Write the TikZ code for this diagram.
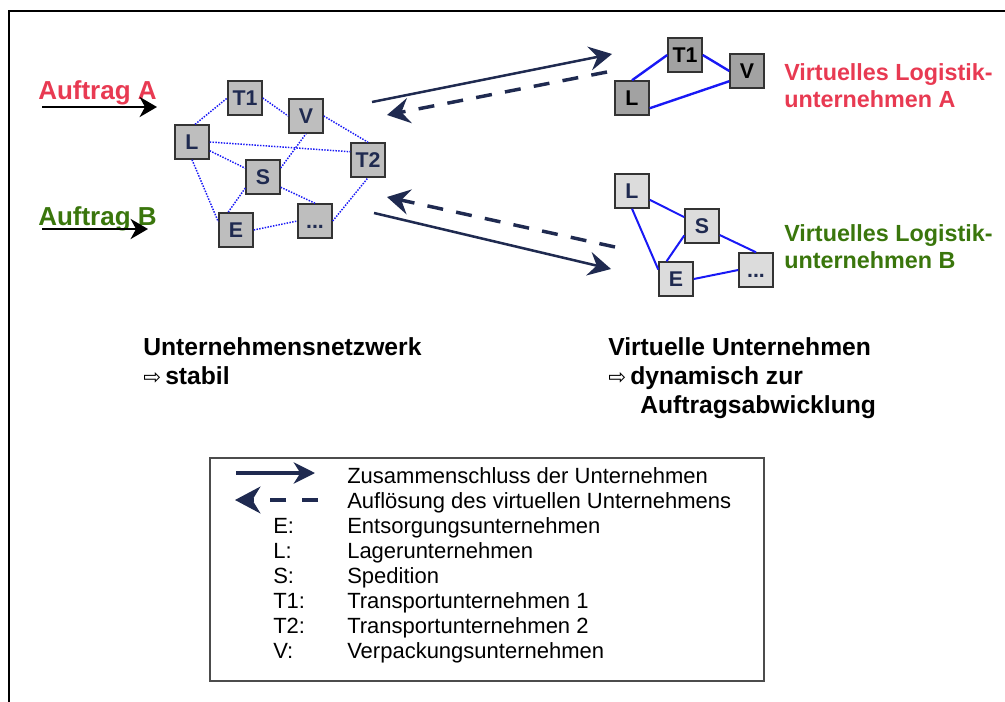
\documentclass[tikz,border=0pt]{standalone}
\usepackage{fontspec}
\setmainfont{Liberation Sans}
\newfontfamily\symfont{DejaVu Sans}
\usetikzlibrary{arrows.meta}

\definecolor{navy}{RGB}{31,42,80}
\definecolor{netblue}{RGB}{25,25,245}
\definecolor{redA}{RGB}{232,58,82}
\definecolor{greenB}{RGB}{58,118,12}
\definecolor{boxgray}{RGB}{190,190,190}
\definecolor{boxdark}{RGB}{162,162,162}
\definecolor{boxlight}{RGB}{220,220,220}

\tikzset{
  firm/.style={draw=black!80, line width=1.1pt, minimum width=25.5pt, minimum height=25.5pt,
    inner sep=0pt, text height=11.6pt, text depth=0pt,
    font=\bfseries\fontsize{16}{16}\selectfont},
  netfirm/.style={firm, fill=boxgray, text=navy},
  firmA/.style={firm, fill=boxdark, text=black},
  firmB/.style={firm, fill=boxlight, text=navy},
  netlink/.style={netblue, line width=1.1pt, densely dotted},
  virtlink/.style={netblue, line width=1.5pt},
  joinarrow/.style={navy, line width=1.9pt, -{Stealth[length=17pt,width=18pt,inset=6pt]}},
  splitarrow/.style={navy, line width=2.6pt, dash pattern=on 12pt off 10pt,
    -{Stealth[length=17pt,width=19pt,inset=6pt]}},
  orderarrow/.style={black, line width=2.2pt, -{Stealth[length=13pt,width=15pt,inset=4pt]}},
  plain/.style={anchor=base west, inner sep=0pt},
  ordertext/.style={plain, font=\bfseries\fontsize{19.5}{19.5}\selectfont},
  grouptext/.style={plain, font=\bfseries\fontsize{17.5}{17.5}\selectfont},
  headtext/.style={plain, font=\bfseries\fontsize{18.5}{18.5}\selectfont},
  legtext/.style={plain, font=\fontsize{16.5}{16.5}\selectfont},
}
\newcommand{\hollowarrow}{{\symfont\fontsize{16}{16}\selectfont\mdseries ⇨}\,}

\begin{document}
\begin{tikzpicture}[x=0.75pt, y=-0.75pt]
\useasboundingbox (0,0) rectangle (1005,702);

% outer frame (top and left edges)
\draw[line width=2pt] (9,702) -- (9,11) -- (1005,11);

% incoming orders
\node[ordertext, text=redA] (aufA) at (38,100) {Auftrag A};
\node[ordertext, text=greenB] (aufB) at (38,225) {Auftrag B};
\coordinate (oA0) at (42,107);  \coordinate (oA1) at (157,107);
\coordinate (oB0) at (42,229);  \coordinate (oB1) at (148,229);
\draw[orderarrow] (oA0) -- (oA1);
\draw[orderarrow] (oB0) -- (oB1);

% stable company network
\node[netfirm] (nT1) at (245,98)  {T1};
\node[netfirm] (nV)  at (306,116) {V};
\node[netfirm] (nL)  at (192,142) {L};
\node[netfirm] (nT2) at (368,160) {T2};
\node[netfirm] (nS)  at (263,177) {S};
\node[netfirm] (nE)  at (236,230) {E};
\node[netfirm] (nD)  at (315,221) {...};

\draw[netlink] (nL.80) -- (nT1.west);
\draw[netlink] (nT1.east) -- (nV.west);
\draw[netlink] (nV.east) -- (nT2.north);
\draw[netlink] (nL.east) -- (nT2.155);
\draw[netlink] (nL) -- (nS);
\draw[netlink] (nL.south) -- (nE.155);
\draw[netlink] (nS.27) -- (nV.south);
\draw[netlink] (nS.212) -- (nE.114);
\draw[netlink] (nS.-30) -- (nD.north);
\draw[netlink] (nE.east) -- (nD.west);
\draw[netlink] (nD.east) -- (nT2.south);

% virtual company A
\node[firmA] (aT1) at (685,55) {T1};
\node[firmA] (aV)  at (747,71) {V};
\node[firmA] (aL)  at (632,98) {L};
\draw[virtlink, line width=1.8pt] (aL.north) -- (aT1.west);
\draw[virtlink, line width=1.8pt] (aT1.east) -- (aV.west);
\draw[virtlink, line width=1.8pt] (aL.-30) -- (aV.210);
\node[grouptext, text=redA] (grpA1) at (784,81) {Virtuelles Logistik-};
\node[grouptext, text=redA] (grpA2) at (784,108) {unternehmen A};

% virtual company B
\node[firmB] (bL) at (632,191) {L};
\node[firmB] (bS) at (702,226) {S};
\node[firmB] (bE) at (676,279) {E};
\node[firmB] (bD) at (756,270) {...};
\draw[virtlink] (bL) -- (bS);
\draw[virtlink] (bL.south) -- (bE.152);
\draw[virtlink] (bS.208) -- (bE.118);
\draw[virtlink] (bS.-27) -- (bD.north);
\draw[virtlink] (bE.east) -- (bD.west);
\node[grouptext, text=greenB] (grpB1) at (784,241) {Virtuelles Logistik-};
\node[grouptext, text=greenB] (grpB2) at (784,268) {unternehmen B};

% forming and dissolving the virtual companies
\coordinate (jA0) at (372,102); \coordinate (jA1) at (612,54);
\coordinate (sA0) at (607,72);  \coordinate (sA1) at (387,115);
\coordinate (sB0) at (615,247); \coordinate (sB1) at (387,197);
\coordinate (jB0) at (374,213); \coordinate (jB1) at (611,269);
\draw[joinarrow] (jA0) -- (jA1);
\draw[splitarrow] (sA0) -- (sA1);
\draw[splitarrow] (sB0) -- (sB1);
\draw[joinarrow] (jB0) -- (jB1);

% captions
\node[headtext] (capNet) at (143,355) {Unternehmensnetzwerk};
\node[headtext] (capNet2) at (143,384) {\hollowarrow stabil};
\node[headtext] (capVU) at (608,355) {Virtuelle Unternehmen};
\node[headtext] (capVU2) at (608,384) {\hollowarrow dynamisch zur};
\node[headtext] (capVU3) at (640,413) {Auftragsabwicklung};

% legend
\draw[draw=black!70, line width=0.9pt] (210,458) rectangle (764,681);
\coordinate (lj0) at (236,473); \coordinate (lj1) at (315,473);
\coordinate (ls0) at (318,500); \coordinate (ls1) at (235,500);
\draw[navy, line width=2.3pt, -{Stealth[length=16pt,width=16pt,inset=5pt]}] (lj0) -- (lj1);
\draw[navy, line width=3pt, dash pattern=on 12pt off 12pt,
      -{Stealth[length=19pt,width=20pt,inset=6pt]}] (ls0) -- (ls1);
\node[legtext] (l1) at (347,483) {Zusammenschluss der Unternehmen};
\node[legtext] (l2) at (347,508) {Auflösung des virtuellen Unternehmens};
\node[legtext] (kE)  at (273,533) {E:};
\node[legtext] (tE)  at (347,533) {Entsorgungsunternehmen};
\node[legtext] (kL)  at (273,558) {L:};
\node[legtext] (tL)  at (347,558) {Lagerunternehmen};
\node[legtext] (kS)  at (273,583) {S:};
\node[legtext] (tS)  at (347,583) {Spedition};
\node[legtext] (kT1) at (273,608) {T1:};
\node[legtext] (tT1) at (347,608) {Transportunternehmen 1};
\node[legtext] (kT2) at (273,633) {T2:};
\node[legtext] (tT2) at (347,633) {Transportunternehmen 2};
\node[legtext] (kV)  at (273,658) {V:};
\node[legtext] (tV)  at (347,658) {Verpackungsunternehmen};
\end{tikzpicture}
\end{document}
